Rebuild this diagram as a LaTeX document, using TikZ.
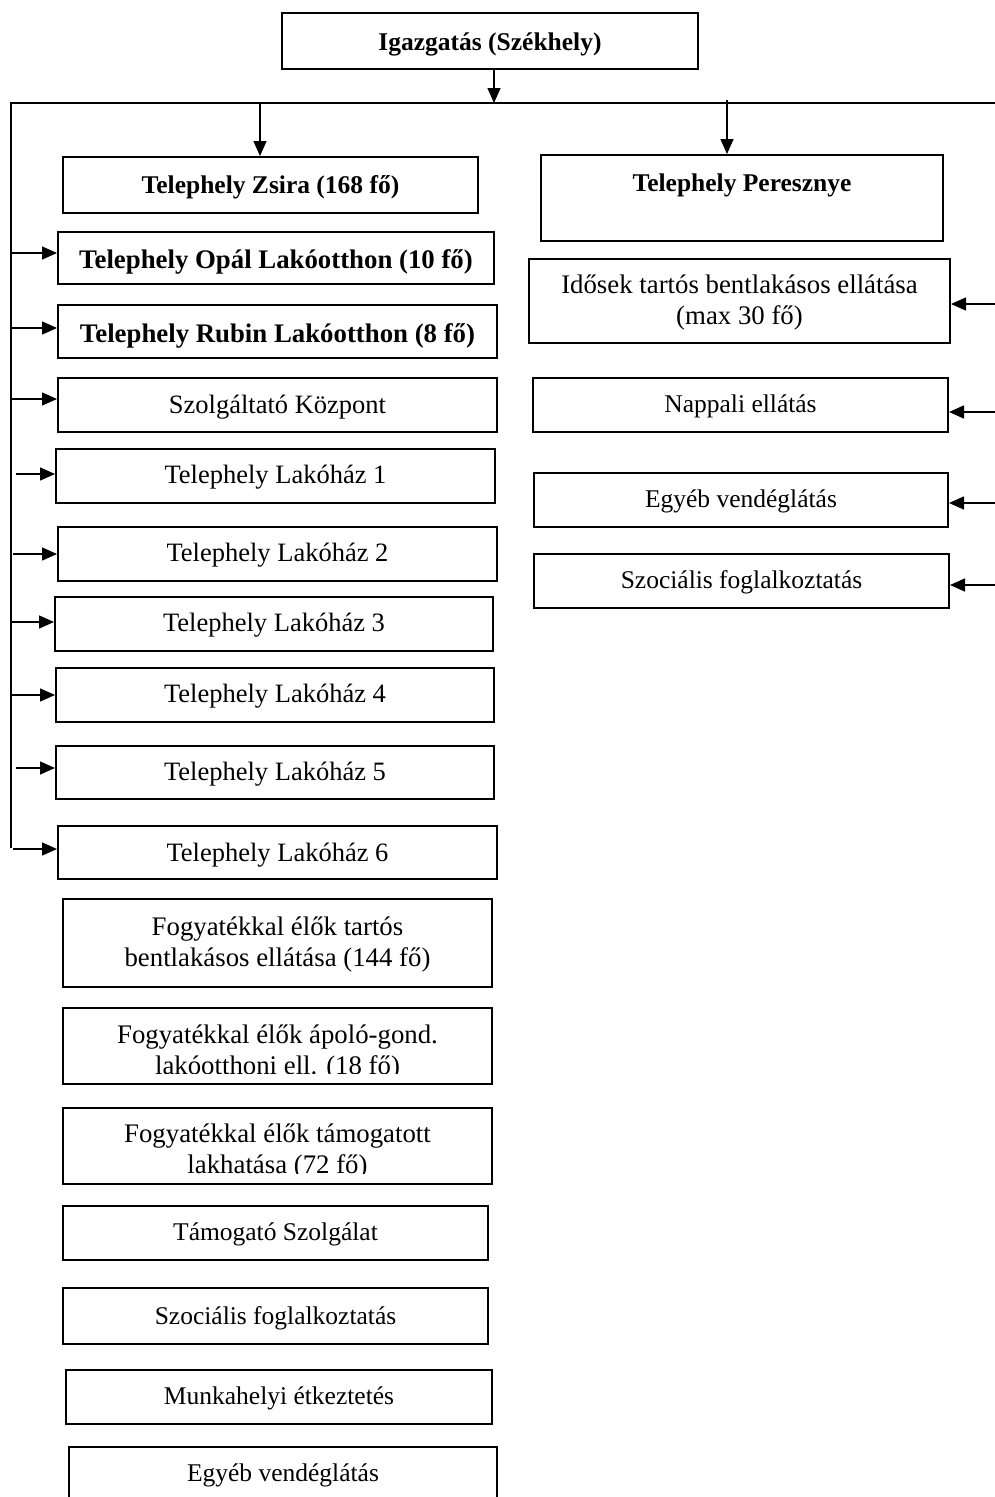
\documentclass[tikz,border=0pt]{standalone}
\usepackage{fontspec}
\setmainfont{Liberation Serif}
\usetikzlibrary{arrows.meta}
\newcommand{\tb}[2][2.5pt]{\raisebox{-#1}[\height][\depth]{\begin{tabular}{@{}c@{}}#2\end{tabular}}}
\begin{document}
\begin{tikzpicture}[x=1pt,y=-1pt,
  tx/.style={inner sep=0pt},
  box/.style={tx,draw=black,line width=2pt,font=\fontsize{25.5}{31}\selectfont},
  bbox/.style={box,font=\fontsize{25.5}{31}\selectfont\bfseries},
  obox/.style={box,font=\fontsize{26.8}{31}\selectfont\bfseries},
  lbox/.style={box,font=\fontsize{26.5}{31}\selectfont},
  tbox/.style={box,font=\fontsize{26.8}{31}\selectfont},
  ftext/.style={tx,font=\fontsize{26.8}{31}\selectfont},
  arr/.style={line width=1.5pt,-{Triangle[length=15pt,width=13pt]}},
  bus/.style={line width=1.4pt}]
\useasboundingbox (0,0) rectangle (995,1497);
\clip (0,0) rectangle (995,1497);
% top
\node[bbox,minimum width=416pt,minimum height=56pt] (top) at (490,41) {\tb[3pt]{Igazgatás (Székhely)}};
\node[bbox,minimum width=415pt,minimum height=56pt] (zs) at (270.5,185) {\tb{Telephely Zsira (168 fő)}};
\node[box,minimum width=402pt,minimum height=86pt] (pz) at (742,198) {};
\node[tx,font=\fontsize{25.5}{31}\selectfont\bfseries] (pzt) at (742,183) {\tb{Telephely Peresznye}};
% right column
\node[tbox,minimum width=421pt,minimum height=84pt] (id) at (739.5,301) {\tb[2pt]{Idősek tartós bentlakásos ellátása\\(max 30 fő)}};
\node[box,minimum width=415pt,minimum height=54pt] (na) at (740.5,405) {\tb[1.5pt]{Nappali ellátás}};
\node[box,minimum width=414pt,minimum height=54pt] (eg) at (741,500) {\tb[1.5pt]{Egyéb vendéglátás}};
\node[box,minimum width=415pt,minimum height=54pt] (sz) at (741.5,581) {\tb[1.5pt]{Szociális foglalkoztatás}};
% left column
\node[obox,minimum width=436pt,minimum height=52pt] (op) at (276,257.5) {\tb[4.5pt]{Telephely Opál Lakóotthon (10 fő)}};
\node[obox,minimum width=439pt,minimum height=53pt] (ru) at (277.5,331.5) {\tb[4.5pt]{Telephely Rubin Lakóotthon (8 fő)}};
\node[lbox,minimum width=439pt,minimum height=54pt] (sk) at (277.5,405) {\tb[2pt]{Szolgáltató Központ}};
\node[lbox,minimum width=439pt,minimum height=54pt] (l1) at (275.5,476) {\tb[1.5pt]{Telephely Lakóház 1}};
\node[lbox,minimum width=439pt,minimum height=54pt] (l2) at (277.5,554) {\tb[1.5pt]{Telephely Lakóház 2}};
\node[lbox,minimum width=438pt,minimum height=54pt] (l3) at (274,624) {\tb[1pt]{Telephely Lakóház 3}};
\node[lbox,minimum width=438pt,minimum height=54pt] (l4) at (275,695) {\tb[1pt]{Telephely Lakóház 4}};
\node[lbox,minimum width=438pt,minimum height=53pt] (l5) at (275,772.5) {\tb[2pt]{Telephely Lakóház 5}};
\node[lbox,minimum width=439pt,minimum height=53pt] (l6) at (277.5,852.5) {\tb[2.5pt]{Telephely Lakóház 6}};
\node[tbox,minimum width=429pt,minimum height=88pt] (f1) at (277.5,943) {\tb[1.5pt]{Fogyatékkal élők tartós\\bentlakásos ellátása (144 fő)}};
\node[box,minimum width=429pt,minimum height=76pt] (f2) at (277.5,1046) {};
\node[box,minimum width=429pt,minimum height=76pt] (f3) at (277.5,1146) {};
\coordinate (f2cut) at (492,1073);
\coordinate (f3cut) at (492,1173);
\begin{scope}
\clip (f2.north west) rectangle (f2cut);
\node[ftext] (f2t) at (277.5,1050) {\tb[3pt]{Fogyatékkal élők ápoló-gond.\\lakóotthoni ell. (18 fő)}};
\end{scope}
\begin{scope}
\clip (f3.north west) rectangle (f3cut);
\node[ftext] (f3t) at (277.5,1149) {\tb[3pt]{Fogyatékkal élők támogatott\\lakhatása (72 fő)}};
\end{scope}
\node[box,minimum width=425pt,minimum height=54pt] (ts) at (275.5,1233) {\tb[1pt]{Támogató Szolgálat}};
\node[box,minimum width=425pt,minimum height=56pt] (so) at (275.5,1316) {\tb[2.5pt]{Szociális foglalkoztatás}};
\node[box,minimum width=426pt,minimum height=54pt] (mu) at (279,1397) {\tb[1.5pt]{Munkahelyi étkeztetés}};
\node[box,minimum width=428pt,minimum height=52pt] (ev) at (283,1473) {\tb[2pt]{Egyéb vendéglátás}};
% bus
\coordinate (bl) at (11,103);
\coordinate (br) at (995,103);
\coordinate (bb) at (11,848);
\coordinate (rr) at (995,0);
\coordinate (topin) at (494,69);
\coordinate (zsin) at (260,103);
\coordinate (pzin) at (727,100);
\draw[bus] (bb) -- (bl) -- (br);
\draw[arr] (topin) -- (topin |- bl);
\draw[arr] (zsin) -- (zsin |- zs.north);
\draw[arr] (pzin) -- (pzin |- pz.north);
% arrow targets
\coordinate (opin) at ([yshift=4.5pt]op.west);
\coordinate (ruin) at ([yshift=3.5pt]ru.west);
\coordinate (skin) at ([yshift=6pt]sk.west);
\coordinate (l1in) at ([yshift=2pt]l1.west);
\coordinate (l2in) at (l2.west);
\coordinate (l3in) at ([yshift=2pt]l3.west);
\coordinate (l4in) at (l4.west);
\coordinate (l5in) at ([yshift=4.5pt]l5.west);
\coordinate (l6in) at ([yshift=3.5pt]l6.west);
\coordinate (idin) at ([yshift=-3pt]id.east);
\coordinate (nain) at ([yshift=-7pt]na.east);
\coordinate (egin) at ([yshift=-3pt]eg.east);
\coordinate (szin) at ([yshift=-4pt]sz.east);
\coordinate (bl5) at (16,103);
\coordinate (bl2) at (13,103);
% left arrows
\draw[arr] (bl |- opin) -- (opin);
\draw[arr] (bl |- ruin) -- (ruin);
\draw[arr] (bl |- skin) -- (skin);
\draw[arr] (bl5 |- l1in) -- (l1in);
\draw[arr] (bl2 |- l2in) -- (l2in);
\draw[arr] (bl |- l3in) -- (l3in);
\draw[arr] (bl |- l4in) -- (l4in);
\draw[arr] (bl5 |- l5in) -- (l5in);
\draw[arr] (bl2 |- l6in) -- (l6in);
% right arrows
\draw[arr] (rr |- idin) -- (idin);
\draw[arr] (rr |- nain) -- (nain);
\draw[arr] (rr |- egin) -- (egin);
\draw[arr] (rr |- szin) -- (szin);
\end{tikzpicture}
\end{document}
